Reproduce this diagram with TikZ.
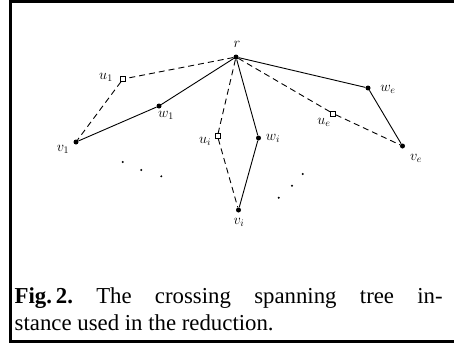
\documentclass[tikz,border=0pt]{standalone}
\usepackage{fontspec}
\setmainfont{Liberation Serif}
\frenchspacing
\begin{document}
\begin{tikzpicture}[x=1pt,y=-1pt,
  vert/.style={circle,fill=black,inner sep=0pt,minimum size=5pt},
  aux/.style={rectangle,draw=black,fill=white,inner sep=0pt,minimum size=5pt,line width=0.6pt},
  lbl/.style={inner sep=0pt,font=\fontsize{14}{16}\selectfont},
  tree/.style={line width=0.9pt},
  cross/.style={line width=0.9pt,dash pattern=on 6pt off 4pt},
  ell/.style={circle,fill=black,inner sep=0pt,minimum size=2.2pt},
  captext/.style={anchor=base west,inner sep=0pt,font=\fontsize{22.8}{26}\selectfont}]
\useasboundingbox (0,0) rectangle (454,343);
\clip (0,0) rectangle (454,343);
% frame (open to the right)
\draw[line width=3pt] (10.5,1) rectangle (480,341.5);

% vertices
\node[vert] (r)  at (236,57) {};
\node[aux]  (u1) at (123,79) {};
\node[vert] (w1) at (159,106) {};
\node[vert] (v1) at (76,142) {};
\node[aux]  (ui) at (217.5,136) {};
\node[vert] (wi) at (258.5,138) {};
\node[vert] (vi) at (238.5,210) {};
\node[aux]  (ue) at (333,113.5) {};
\node[vert] (we) at (368,88) {};
\node[vert] (ve) at (402.5,146) {};

% tree edges
\draw[tree] (r) -- (w1) -- (v1);
\draw[tree] (r) -- (wi) -- (vi);
\draw[tree] (r) -- (we) -- (ve);
% crossing paths through the subdivision vertices
\draw[cross] (r) -- (u1) -- (v1);
\draw[cross] (r) -- (ui) -- (vi);
\draw[cross] (r) -- (ue) -- (ve);

% labels
\node[lbl] (lr)  at (237,44)  {$r$};
\node[lbl] (lu1) at (106,77)  {$u_1$};
\node[lbl] (lw1) at (166,115) {$w_1$};
\node[lbl] (lv1) at (63,149)  {$v_1$};
\node[lbl] (lui) at (205,141) {$u_i$};
\node[lbl] (lwi) at (273,138.5) {$w_i$};
\node[lbl] (lvi) at (239,222) {$v_i$};
\node[lbl] (lwe) at (388,89)  {$w_e$};
\node[lbl] (lue) at (324,122) {$u_e$};
\node[lbl] (lve) at (416,158) {$v_e$};

% ellipses
\node[ell] (d1) at (122.7,162) {};
\node[ell] (d2) at (141.3,170) {};
\node[ell] (d3) at (161.3,176.3) {};
\node[ell] (d4) at (278.7,197.7) {};
\node[ell] (d5) at (292,185.7) {};
\node[ell] (d6) at (302.7,174) {};

% caption
\node[captext] (cap1) at (14.5,303) {\makebox[428pt][s]{\textbf{Fig.\,2.} The crossing spanning tree in-}};
\node[captext] (cap2) at (14.5,330) {stance used in the reduction.};
\end{tikzpicture}
\end{document}
